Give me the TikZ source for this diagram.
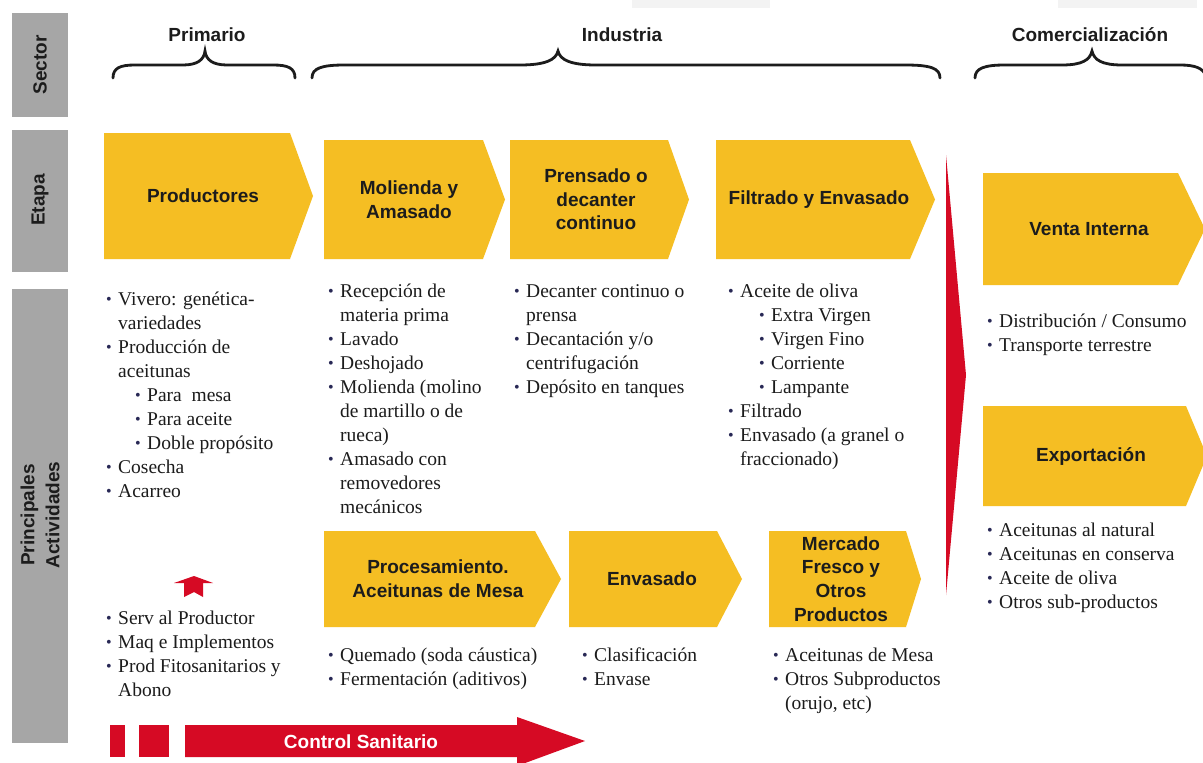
\documentclass[tikz,border=0pt]{standalone}
\usepackage{fontspec}
\setmainfont{Liberation Serif}
\newfontfamily\hsf{Liberation Sans}
\definecolor{yel}{RGB}{245,190,35}
\definecolor{rd}{RGB}{214,10,36}
\definecolor{gry}{RGB}{166,166,166}
\definecolor{txt}{RGB}{28,28,28}
\definecolor{bulc}{RGB}{40,40,85}
\definecolor{faint}{RGB}{243,243,243}
\newcommand\bl{\makebox[12pt][l]{\raisebox{0.3pt}{\fontsize{16}{16}\selectfont\color{bulc}\textbullet}}}
\newcommand\ind{\hspace*{12pt}}
\newcommand\sbl{\hspace*{29pt}\bl}
\newcommand\chev[8]{%
  \fill[yel] (#2,#3) -- (#4,#3) -- (#5,{(#3+#6)/2}) -- (#4,#6) -- (#2,#6) -- cycle;
  \node[hd] (#1) at (#7,{(#3+#6)/2}) {#8};}
\tikzset{
  hd/.style={font=\hsf\bfseries\fontsize{19}{23.7}\selectfont, align=center, text=txt, inner sep=0pt},
  lab/.style={font=\hsf\bfseries\fontsize{19}{25}\selectfont, align=center, text=txt, inner sep=0pt},
  lst/.style={anchor=north west, align=left, inner sep=0pt, font=\fontsize{19.5}{24}\selectfont, text=txt},
  brace/.style={line width=2.8pt, line cap=round, txt}
}
\begin{document}
\begin{tikzpicture}[x=1pt,y=-1pt]
\useasboundingbox (0,0) rectangle (1203,763);
\fill[white] (0,0) rectangle (1203,763);
% faint top marks
\fill[faint] (632,0) rectangle (770,8);
\fill[faint] (1058,0) rectangle (1197,8);
% gray row labels
\fill[gry] (12,13) rectangle (68,117);
\fill[gry] (12,130) rectangle (68,272);
\fill[gry] (12,289) rectangle (68,743);
\node[lab, rotate=90] (lsec) at (40,65) {Sector};
\node[lab, rotate=90] (leta) at (40,200) {Etapa};
\node[lab, rotate=90] (lact) at (40,515) {Principales\\Actividades};
% sector titles
\node[lab, anchor=base] (tpri) at (207,41) {Primario};
\node[lab, anchor=base] (tind) at (622,41) {Industria};
\node[lab, anchor=base] (tcom) at (1090,41) {Comercialización};
% braces
\draw[brace] (113,78) .. controls (113,68) and (120,65) .. (135,65) -- (183,65) .. controls (197,65) and (204,60) .. (205,51) .. controls (206,60) and (213,65) .. (227,65) -- (273,65) .. controls (288,65) and (295,68) .. (295,78);
\draw[brace] (312,78) .. controls (312,68) and (322,65) .. (345,65) -- (520,65) .. controls (545,65) and (556,60) .. (558,51) .. controls (560,60) and (571,65) .. (596,65) -- (905,65) .. controls (930,65) and (940,68) .. (940,78);
\draw[brace] (975,78) .. controls (975,68) and (985,65) .. (1005,65) -- (1062,65) .. controls (1082,65) and (1090,60) .. (1092,51) .. controls (1094,60) and (1102,65) .. (1122,65) -- (1180,65) .. controls (1195,65) and (1203,68) .. (1206,76);
% stage chevrons
\chev{prod}{104}{133}{290}{313}{259}{203}{Productores}
\chev{mol}{324}{140}{483}{505}{259}{409}{Molienda y\\Amasado}
\chev{pren}{510}{140}{668}{689}{259}{596}{Prensado o\\decanter\\continuo}
\chev{filt}{716}{140}{910}{935}{259}{819}{Filtrado y Envasado}
\chev{vent}{983}{173}{1178}{1205}{285}{1089}{Venta Interna}
\chev{expo}{983}{406}{1186}{1207}{506}{1091}{Exportación}
\chev{proc}{324}{531}{535}{561}{627}{438}{Procesamiento.\\Aceitunas de Mesa}
\chev{env}{569}{531}{717}{742}{627}{652}{Envasado}
\chev{merc}{769}{531}{906}{921}{627}{841}{Mercado\\Fresco y\\Otros\\Productos}
% red separator
\fill[rd] (946,155) -- (966,375) -- (946,595) -- cycle;
% lists
\node[lst] (lprod) at (106,288.2) {\strut\bl Vivero: genética-\\ \ind variedades\\ \bl Producción de\\ \ind aceitunas\\ \sbl Para\ \ mesa\\ \sbl Para aceite\\ \sbl Doble propósito\\ \bl Cosecha\\ \bl Acarreo};
\node[lst] (lserv) at (106,607.2) {\strut\bl Serv al Productor\\ \bl Maq e Implementos\\ \bl Prod Fitosanitarios y\\ \ind Abono};
\node[lst] (lmol) at (328,280.2) {\strut\bl Recepción de\\ \ind materia prima\\ \bl Lavado\\ \bl Deshojado\\ \bl Molienda (molino\\ \ind de martillo o de\\ \ind rueca)\\ \bl Amasado con\\ \ind removedores\\ \ind mecánicos};
\node[lst] (lpren) at (514,280.2) {\strut\bl Decanter continuo o\\ \ind prensa\\ \bl Decantación y/o\\ \ind centrifugación\\ \bl Depósito en tanques};
\node[lst] (lfilt) at (728,280.2) {\strut\bl Aceite de oliva\\ \hspace*{31pt}\bl Extra Virgen\\ \hspace*{31pt}\bl Virgen Fino\\ \hspace*{31pt}\bl Corriente\\ \hspace*{31pt}\bl Lampante\\ \bl Filtrado\\ \bl Envasado (a granel o\\ \ind fraccionado)};
\node[lst] (lvent) at (987,310.2) {\strut\bl Distribución / Consumo\\ \bl Transporte terrestre};
\node[lst] (lexpo) at (987,519.2) {\strut\bl Aceitunas al natural\\ \bl Aceitunas en conserva\\ \bl Aceite de oliva\\ \bl Otros sub-productos};
\node[lst] (lproc) at (328,644.2) {\strut\bl Quemado (soda cáustica)\\ \bl Fermentación (aditivos)};
\node[lst] (lenv) at (582,644.2) {\strut\bl Clasificación\\ \bl Envase};
\node[lst] (lmerc) at (773,644.2) {\strut\bl Aceitunas de Mesa\\ \bl Otros Subproductos\\ \ind (orujo, etc)};
% small up arrow
\fill[rd] (194,576) -- (213,583) -- (203,583) -- (203,597) -- (194,592) -- (184,597) -- (184,583) -- (174,583) -- cycle;
% control sanitario
\fill[rd] (110,725) rectangle (125,757);
\fill[rd] (139,725) rectangle (169,757);
\fill[rd] (185,725) -- (517,725) -- (517,717) -- (585,741) -- (517,766) -- (517,757) -- (185,757) -- cycle;
\node[hd, text=white] (cs) at (361,742) {Control Sanitario};
\end{tikzpicture}
\end{document}
